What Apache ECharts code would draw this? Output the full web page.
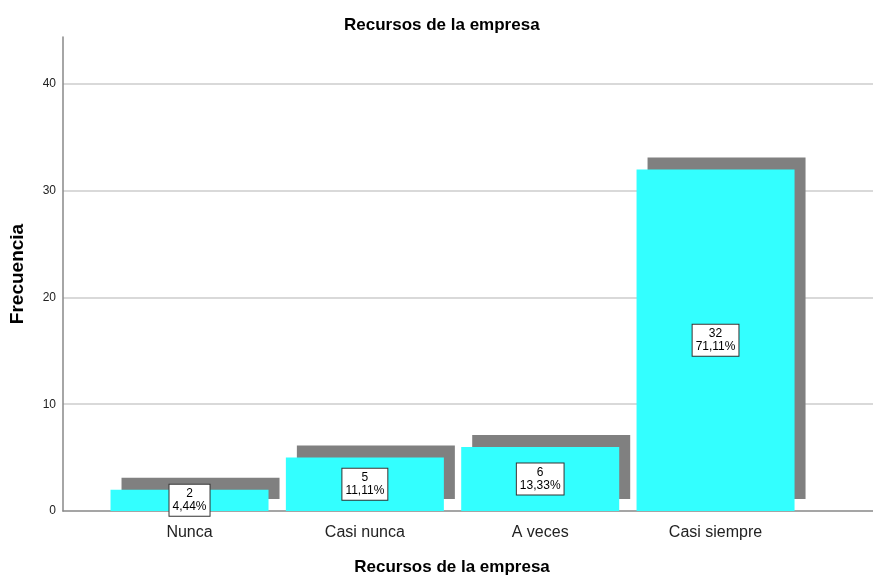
<!DOCTYPE html>
<html>
<head>
<meta charset="utf-8">
<script src="https://cdn.jsdelivr.net/npm/echarts@6/dist/echarts.min.js"></script>
<style>html,body{margin:0;padding:0;background:#fff}#c{width:873px;height:581px}</style>
</head>
<body>
<div id="c"></div>
<script>
const categories = ['Nunca', 'Casi nunca', 'A veces', 'Casi siempre'];
const counts = [2, 5, 6, 32];
const percents = ['4,44%', '11,11%', '13,33%', '71,11%'];
const yTicks = [0, 10, 20, 30, 40];

const FONT = '"Liberation Sans", Arial, sans-serif';
const chart = echarts.init(document.getElementById('c'), null, {renderer: 'canvas'});
chart.setOption({
  animation: false,
  backgroundColor: '#ffffff',
  title: {
    text: 'Recursos de la empresa',
    left: 339,
    top: 12,
    textStyle: {fontFamily: FONT, fontSize: 17, fontWeight: 'bold', color: '#000'}
  },
  grid: {left: 60, right: 0, top: 37, bottom: 68, containLabel: false},
  xAxis: {
    type: 'value',
    min: -0.7216,
    max: 3.898,
    name: 'Recursos de la empresa',
    nameLocation: 'middle',
    nameGap: 48,
    nameTextStyle: {fontFamily: FONT, fontSize: 17, fontWeight: 'bold', color: '#000', padding: [0, 32, 0, 0]},
    axisLine: {show: true, lineStyle: {color: '#888', width: 1.5}},
    axisTick: {show: false},
    splitLine: {show: false},
    axisLabel: {
      customValues: [0, 1, 2, 3],
      formatter: v => categories[Math.round(v)],
      fontFamily: FONT, fontSize: 16, color: '#222', margin: 14
    }
  },
  yAxis: {
    type: 'value',
    min: 0,
    max: 44.4,
    interval: 10,
    name: 'Frecuencia',
    nameLocation: 'middle',
    nameGap: 36,
    nameTextStyle: {fontFamily: FONT, fontSize: 19, fontWeight: 'bold', color: '#000'},
    axisLine: {show: true, onZero: false, lineStyle: {color: '#888', width: 1.5}},
    axisTick: {show: false},
    axisLabel: {showMaxLabel: false, fontFamily: FONT, fontSize: 12, color: '#222', margin: 7,
      formatter: v => (yTicks.indexOf(v) >= 0 ? String(v) : '')},
    splitLine: {show: true, showMaxLine: false, showMinLine: false, lineStyle: {color: '#d9d9d9', width: 2}}
  },
  series: [{
    type: 'bar',
    barWidth: 158,
    data: counts.map((c, i) => [i, c]),
    itemStyle: {
      color: '#33ffff',
      shadowColor: '#808080',
      shadowBlur: 0,
      shadowOffsetX: 11,
      shadowOffsetY: -12
    },
    label: {
      show: true,
      position: 'inside',
      formatter: p => counts[p.dataIndex] + '\n' + percents[p.dataIndex],
      fontFamily: FONT,
      fontSize: 12,
      lineHeight: 13,
      color: '#000',
      backgroundColor: '#ffffff',
      borderColor: '#333',
      borderWidth: 1,
      padding: [3, 3, 2, 3],
      align: 'center'
    }
  }]
});
</script>
</body>
</html>
